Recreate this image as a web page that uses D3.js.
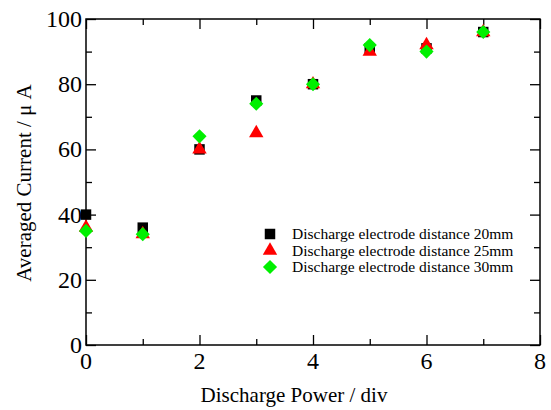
<!DOCTYPE html>
<html>
<head>
<meta charset="utf-8">
<script src="https://cdn.jsdelivr.net/npm/d3@7"></script>
<style>
  body { margin: 0; background: #fff; }
  text { font-family: "Liberation Serif", "Times New Roman", serif; fill: #000; }
</style>
</head>
<body>
<svg width="551" height="410"></svg>
<script>
// data
const power = [0, 1, 2, 3, 4, 5, 6, 7];
const dist20 = [40, 36, 60, 75, 80, 91, 91, 96];
const dist25 = [36, 34, 60, 65, 80, 90, 92, 96];
const dist30 = [35, 34, 64, 74, 80, 92, 90, 96];
const seriesNames = ["Discharge electrode distance 20mm",
                     "Discharge electrode distance 25mm",
                     "Discharge electrode distance 30mm"];
const xTicks = [0, 2, 4, 6, 8];
const yTicks = [0, 20, 40, 60, 80, 100];

const svg = d3.select("svg"),
    width = +svg.attr("width"),
    height = +svg.attr("height");

const plotL = 86, plotR = 540, plotT = 19, plotB = 345;

const x = d3.scaleLinear().domain([0, 8]).range([plotL, plotR]);
const y = d3.scaleLinear().domain([0, 100]).range([plotB, plotT]);

const gAxes = svg.append("g");
const gDots = svg.append("g"); // drawn after axes so markers sit on top

// frame
gAxes.append("rect")
    .attr("x", plotL).attr("y", plotT)
    .attr("width", plotR - plotL).attr("height", plotB - plotT)
    .attr("fill", "none").attr("stroke", "#000").attr("stroke-width", 1.5);

// inward ticks on all four sides
function ticks(axisGen, transform) {
  const g = gAxes.append("g").attr("transform", transform).call(axisGen);
  g.select(".domain").remove();
  g.selectAll("line").attr("stroke", "#000").attr("stroke-width", 1.3);
  return g;
}
const xMinor = d3.range(1, 8, 2), yMinor = d3.range(10, 100, 20);

ticks(d3.axisTop(x).tickValues(xTicks).tickSize(10).tickFormat(""), `translate(0,${plotB})`);
ticks(d3.axisTop(x).tickValues(xMinor).tickSize(6).tickFormat(""), `translate(0,${plotB})`);
ticks(d3.axisBottom(x).tickValues(xTicks).tickSize(10).tickFormat(""), `translate(0,${plotT})`);
ticks(d3.axisBottom(x).tickValues(xMinor).tickSize(6).tickFormat(""), `translate(0,${plotT})`);
ticks(d3.axisRight(y).tickValues(yTicks).tickSize(10).tickFormat(""), `translate(${plotL},0)`);
ticks(d3.axisRight(y).tickValues(yMinor).tickSize(6).tickFormat(""), `translate(${plotL},0)`);
ticks(d3.axisLeft(y).tickValues(yTicks).tickSize(10).tickFormat(""), `translate(${plotR},0)`);
ticks(d3.axisLeft(y).tickValues(yMinor).tickSize(6).tickFormat(""), `translate(${plotR},0)`);

// tick labels
gAxes.selectAll(".xlab").data(xTicks).enter().append("text")
    .attr("x", d => x(d)).attr("y", plotB + 24)
    .attr("text-anchor", "middle").attr("font-size", 24)
    .text(d => d);
gAxes.selectAll(".ylab").data(yTicks).enter().append("text")
    .attr("x", plotL - 4).attr("y", d => y(d) + 8)
    .attr("text-anchor", "end").attr("font-size", 24)
    .text(d => d);

// axis titles
gAxes.append("text")
    .attr("x", 294).attr("y", 402)
    .attr("text-anchor", "middle").attr("font-size", 21)
    .text("Discharge Power / div");
gAxes.append("text")
    .attr("transform", "translate(31,183) rotate(-90)")
    .attr("text-anchor", "middle").attr("font-size", 21)
    .text("Averaged Current / \u03bc A");

// square / triangle / square turned 45 degrees
const symbols = [
  {type: d3.symbolSquare, size: 110, rot: 0, color: "#000"},
  {type: d3.symbolTriangle, size: 90, rot: 0, color: "#ff0000"},
  {type: d3.symbolSquare, size: 100, rot: 45, color: "#00f000"}
];
const allSeries = [dist20, dist25, dist30];

allSeries.forEach(function(vals, i) {
  gDots.selectAll(`.s${i}`)
    .data(power.map((p, j) => [p, vals[j]]))
    .enter().append("path")
    .attr("class", `s${i}`)
    .attr("transform", d => `translate(${x(d[0])},${y(d[1])}) rotate(${symbols[i].rot})`)
    .attr("d", d3.symbol().type(symbols[i].type).size(symbols[i].size))
    .attr("fill", symbols[i].color);
});

// legend
const gLegend = svg.append("g");
seriesNames.forEach(function(name, i) {
  const ly = 234 + i * 16.5;
  gLegend.append("path")
    .attr("transform", `translate(270,${ly}) rotate(${symbols[i].rot})`)
    .attr("d", d3.symbol().type(symbols[i].type).size(symbols[i].size))
    .attr("fill", symbols[i].color);
  gLegend.append("text")
    .attr("x", 292).attr("y", ly + 5)
    .attr("font-size", 15.5)
    .text(name);
});
</script>
</body>
</html>
